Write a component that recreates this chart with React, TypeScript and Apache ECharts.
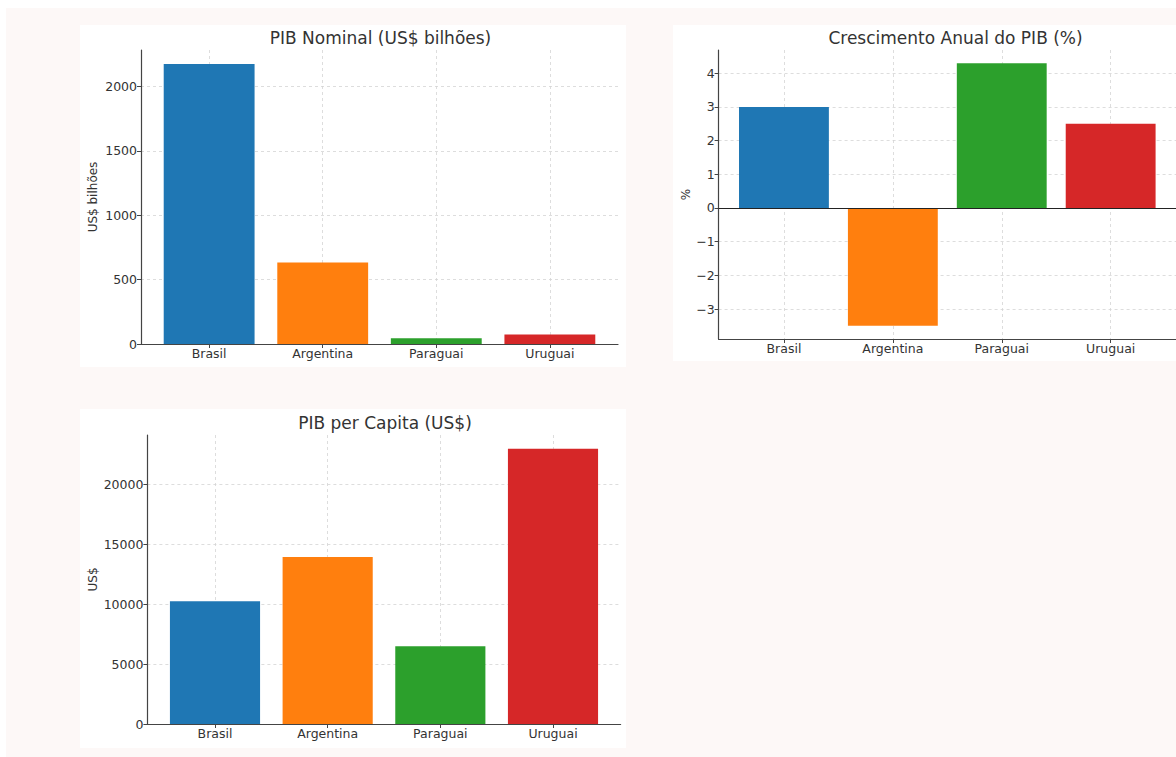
import React, { useEffect, useRef } from "react";
import * as echarts from "echarts";

const categories = ["Brasil", "Argentina", "Paraguai", "Uruguai"];
const barColors = ["#1f77b4", "#ff7f0e", "#2ca02c", "#d62728"];

const gdpNominal = [2174, 632, 44, 73];
const gdpGrowth = [3.0, -3.5, 4.3, 2.5];
const gdpPerCapita = [10250, 13950, 6500, 23000];

const nominalTicks = [0, 500, 1000, 1500, 2000];
const growthTicks = [-3, -2, -1, 0, 1, 2, 3, 4];
const perCapitaTicks = [0, 5000, 10000, 15000, 20000];

const chartTitles = ["PIB Nominal (US$ bilhões)", "Crescimento Anual do PIB (%)", "PIB per Capita (US$)"];
const yAxisNames = ["US$ bilhões", "%", "US$"];

const FONT = "DejaVu Sans";
const TEXT = "#333333";
const AXIS = "#444444";
const GRIDLINE = "#d4d4d4";

const panels = [
  { grid: { left: 141, top: 50, width: 477, height: 294 }, bg: { x: 80, y: 25, w: 546, h: 342 }, titleTop: 24, nameGap: 42 },
  { grid: { left: 718.6, top: 50, width: 471.8, height: 289 }, bg: { x: 673, y: 25, w: 503, h: 336 }, titleTop: 24, nameGap: 26 },
  { grid: { left: 147.4, top: 435, width: 473.2, height: 289 }, bg: { x: 80, y: 409, w: 546, h: 339 }, titleTop: 409, nameGap: 48 },
];

const datasets = [gdpNominal, gdpGrowth, gdpPerCapita];
const tickSets = [nominalTicks, growthTicks, perCapitaTicks];

function fmtNum(v: number) {
  return v < 0 ? "\u2212" + Math.abs(v) : String(v);
}

export default function App() {
  const ref = useRef<HTMLDivElement>(null);
  useEffect(() => {
    if (!ref.current) return;
    const chart = echarts.init(ref.current, null, { renderer: "svg" });
    const catIdx = categories.map((_, i) => i);

    const grids: any[] = [];
    const xAxes: any[] = [];
    const yAxes: any[] = [];
    const series: any[] = [];
    const titles: any[] = [];
    const graphics: any[] = [
      { type: "rect", z: -20, shape: { x: 6, y: 8, width: 1170, height: 749 }, style: { fill: "#fdf8f7" } },
    ];

    panels.forEach((p, g) => {
      const vals = datasets[g];
      const lo = Math.min(0, ...vals);
      const hi = Math.max(0, ...vals);
      const pad = 0.05 * (hi - lo);
      const yMin = lo < 0 ? lo - pad : 0;
      const yMax = hi + pad;

      graphics.push({
        type: "rect",
        z: -10,
        shape: { x: p.bg.x, y: p.bg.y, width: p.bg.w, height: p.bg.h },
        style: { fill: "#ffffff" },
      });

      grids.push({ ...p.grid, containLabel: false });
      titles.push({
        text: chartTitles[g],
        left: p.grid.left + p.grid.width / 2 - 4,
        top: p.titleTop,
        textAlign: "center",
        textStyle: { fontFamily: FONT, fontSize: 17, fontWeight: "normal", color: TEXT },
      });
      xAxes.push({
        type: "value",
        gridIndex: g,
        min: -0.6,
        max: categories.length - 1 + 0.6,
        axisLine: { show: true, onZero: false, lineStyle: { color: AXIS, width: 1.2 } },
        axisTick: { show: true, customValues: catIdx, length: 4, lineStyle: { color: AXIS } },
        axisLabel: {
          customValues: catIdx,
          formatter: (v: number) => categories[Math.round(v)] ?? "",
          color: TEXT,
          fontFamily: FONT,
          fontSize: 12.5,
          margin: 3,
        },
        splitLine: { show: true, lineStyle: { color: GRIDLINE, type: [3, 3], width: 0.8 } },
      });
      yAxes.push({
        type: "value",
        gridIndex: g,
        min: yMin,
        max: yMax,
        name: yAxisNames[g],
        nameLocation: "middle",
        nameGap: p.nameGap,
        nameTextStyle: { fontFamily: FONT, fontSize: 12, color: TEXT },
        axisLine: { show: true, onZero: false, lineStyle: { color: AXIS, width: 1.2 } },
        axisTick: { show: true, customValues: tickSets[g], length: 4, lineStyle: { color: AXIS } },
        axisLabel: {
          customValues: tickSets[g],
          formatter: (v: number) => fmtNum(v),
          color: TEXT,
          fontFamily: FONT,
          fontSize: 12.5,
          margin: 4,
        },
        splitLine: { show: true, lineStyle: { color: GRIDLINE, type: [3, 3], width: 0.8 } },
      });
      const s: any = {
        type: "bar",
        xAxisIndex: g,
        yAxisIndex: g,
        barWidth: (0.8 * p.grid.width) / (categories.length + 0.2),
        data: vals.map((v, i) => ({ value: [i, v], itemStyle: { color: barColors[i] } })),
      };
      if (lo < 0) {
        s.markLine = {
          silent: true,
          symbol: "none",
          label: { show: false },
          lineStyle: { color: "#222222", type: "solid", width: 1.2 },
          data: [{ yAxis: 0 }],
        };
      }
      series.push(s);
    });

    chart.setOption({
      animation: false,
      backgroundColor: "#ffffff",
      title: titles,
      grid: grids,
      xAxis: xAxes,
      yAxis: yAxes,
      series,
      graphic: graphics,
    });
    return () => chart.dispose();
  }, []);

  return (
    <div
      ref={ref}
      style={{ position: "absolute", left: 0, top: 0, width: 1176, height: 757 }}
    />
  );
}
